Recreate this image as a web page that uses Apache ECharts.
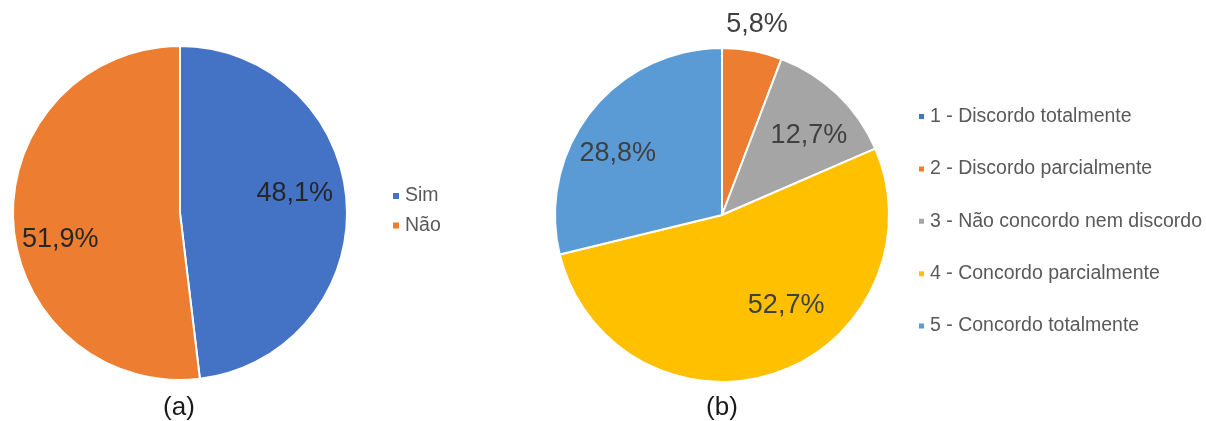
<!DOCTYPE html>
<html>
<head>
<meta charset="utf-8">
<script src="https://cdn.jsdelivr.net/npm/echarts@6/dist/echarts.min.js"></script>
<style>
html,body{margin:0;padding:0;background:#fff;}
#chart{width:1206px;height:421px;}
</style>
</head>
<body>
<div id="chart"></div>
<script>
// ---- Data ----
const categoriesA = ['Sim', 'Não'];
const valuesA = [48.1, 51.9];
const categoriesB = ['1 - Discordo totalmente', '2 - Discordo parcialmente', '3 - Não concordo nem discordo', '4 - Concordo parcialmente', '5 - Concordo totalmente'];
const valuesB = [0, 5.8, 12.7, 52.7, 28.8];
const captionA = '(a)';
const captionB = '(b)';

// ---- Styles ----
const colorsA = ['#4472C4', '#ED7D31'];
const colorsB = ['#4472C4', '#ED7D31', '#A5A5A5', '#FFC000', '#5B9BD5'];
const FONT = 'Liberation Sans, Arial, sans-serif';
const R = 167;
const centerA = [180, 213];
const centerB = [722, 215];
const offsetsA = [[-5, -12], [0, 19]];
const offsetsB = [[0, 0], [0, 0], [4, 7], [26, -23], [-10, 13]];
const outsideB = [false, true, false, false, false];

const fmt = v => v.toFixed(1).replace('.', ',') + '%';

const chart = echarts.init(document.getElementById('chart'), null, {renderer: 'canvas'});

function mainPie(name, cats, vals, cols, center) {
  return {
    type: 'pie', name: name, center: center, radius: [0, R],
    startAngle: 90, clockwise: true, animation: false, silent: true,
    label: {show: false}, labelLine: {show: false},
    itemStyle: {borderColor: '#fff', borderWidth: 2},
    data: cats.map((c, i) => ({name: c, value: vals[i], itemStyle: {color: cols[i]}}))
  };
}
function labelPie(cats, vals, center, radius, showFn, offsets, color) {
  return {
    type: 'pie', center: center, radius: [0, radius],
    startAngle: 90, clockwise: true, animation: false, silent: true,
    legendHoverLink: false,
    itemStyle: {color: 'transparent', borderWidth: 0},
    labelLine: {show: false},
    emphasis: {disabled: true},
    data: cats.map((c, i) => ({
      name: c, value: vals[i],
      itemStyle: {color: 'transparent'},
      label: {
        show: showFn(i) && vals[i] > 0,
        position: 'inside',
        formatter: () => fmt(vals[i]),
        fontSize: 27, fontFamily: FONT, color: color,
        offset: offsets ? offsets[i] : [0, 0]
      }
    }))
  };
}

const option = {
  backgroundColor: '#fff',
  animation: false,
  legend: [
    {
      data: categoriesA, left: 386, top: 181, orient: 'vertical',
      icon: 'rect', itemWidth: 8, itemHeight: 8, itemGap: 9.5,
      textStyle: {fontSize: 19.5, fontFamily: FONT, color: '#595959', lineHeight: 20},
      selectedMode: false
    },
    {
      data: categoriesB, left: 912, top: 101.5, orient: 'vertical',
      icon: 'rect', itemWidth: 7, itemHeight: 7, itemGap: 32.4,
      textStyle: {fontSize: 19.5, fontFamily: FONT, color: '#595959', lineHeight: 20},
      selectedMode: false
    }
  ],
  graphic: [
    {type: 'text', x: 179, y: 408, style: {text: captionA, fontSize: 26, fontFamily: FONT, fill: '#1a1a1a', align: 'center', verticalAlign: 'middle'}},
    {type: 'text', x: 722, y: 408, style: {text: captionB, fontSize: 26, fontFamily: FONT, fill: '#1a1a1a', align: 'center', verticalAlign: 'middle'}}
  ],
  series: [
    mainPie('a', categoriesA, valuesA, colorsA, centerA),
    mainPie('b', categoriesB, valuesB, colorsB, centerB),
    labelPie(categoriesA, valuesA, centerA, R * 1.4, i => true, offsetsA, '#262626'),
    labelPie(categoriesB, valuesB, centerB, R * 1.4, i => !outsideB[i], offsetsB, '#404040'),
    labelPie(categoriesB, valuesB, centerB, R * 2.28, i => outsideB[i], null, '#404040')
  ]
};
chart.setOption(option);
</script>
</body>
</html>
